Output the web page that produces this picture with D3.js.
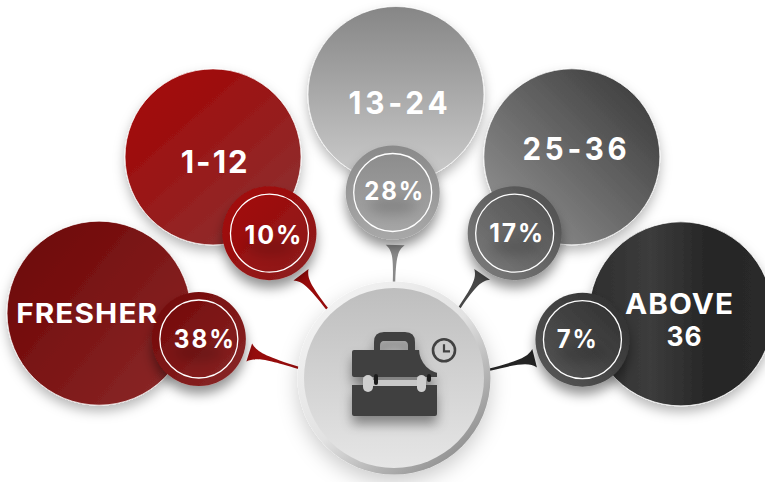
<!DOCTYPE html>
<html>
<head>
<meta charset="utf-8">
<script src="https://cdn.jsdelivr.net/npm/d3@7"></script>
<style>
html, body { margin: 0; padding: 0; background: #fff; }
svg { display: block; }
text { font-family: Inter, sans-serif; font-weight: 700; fill: #fff; text-anchor: middle; }
</style>
</head>
<body>
<script>
const categories = ["FRESHER", "1-12", "13-24", "25-36", "ABOVE 36"];
const shares = [38, 10, 28, 17, 7];

const width = 765, height = 482;
const hub = { x: 394, y: 378, outer: 96.5, inner: 90 };

const svg = d3.select("body").append("svg")
    .attr("width", width)
    .attr("height", height)
    .attr("viewBox", `0 0 ${width} ${height}`);

const ordinal = range => d3.scaleOrdinal().domain(categories).range(range);

// spokes fan out from the hub, each ring has its own angle and distance
const bigAngle = ordinal([-167.6, -129.3, -89.6, -51.2, -12.6]);
const smallAngle = ordinal([-168.7, -130.7, -90.4, -50.2, -11.5]);
const bigDist = ordinal([302, 285.7, 283.5, 283.8, 294]);
const bigRadius = ordinal([92, 88, 88, 88, 92]);
const smallDist = ordinal([199, 191, 185.5, 188.5, 192.3]);
const tipAngle = ordinal([-174, -134, -90, -47, -5]);
const baseAngle = ordinal([-170, -132, -89.5, -49.6, -8]);
const baseDist = ordinal([147, 139, 133, 136, 142]);

const tailColor = ordinal(["#960c0c", "#980a0a", "#8b8b8b", "#484848", "#242424"]);

// share label nudge from the small circle centre
const shareDx = ordinal([5, 3.5, 1, 1.5, -5.8]);
const shareDy = ordinal([9.3, 11, 7, 8.5, 8]);
const shareWidth = ordinal([60, 57, 59, 54, 40]);
const shareSpacing = 2;

const polar = (deg, r) => {
    const a = deg * Math.PI / 180;
    return [hub.x + r * Math.cos(a), hub.y + r * Math.sin(a)];
};

const defs = svg.append("defs");

function gradient(id, stops, x1, y1, x2, y2) {
    const g = defs.append("linearGradient").attr("id", id)
        .attr("x1", x1).attr("y1", y1).attr("x2", x2).attr("y2", y2);
    stops.forEach((c, i) => g.append("stop")
        .attr("offset", i / (stops.length - 1)).attr("stop-color", c));
}

function shadow(id, dy, blur, op) {
    const f = defs.append("filter").attr("id", id)
        .attr("x", "-30%").attr("y", "-30%").attr("width", "160%").attr("height", "170%");
    f.append("feDropShadow").attr("dx", 0).attr("dy", dy)
        .attr("stdDeviation", blur).attr("flood-color", "#000").attr("flood-opacity", op);
}

shadow("big-shadow", 6, 6, 0.28);
shadow("small-shadow", 8, 6, 0.42);
shadow("hub-shadow", 8, 10, 0.2);
shadow("icon-shadow", 8, 6, 0.4);
defs.append("filter").attr("id", "blur")
    .attr("x", "-60%").attr("y", "-120%").attr("width", "220%").attr("height", "340%")
    .append("feGaussianBlur").attr("stdDeviation", 6);

gradient("big-0", ["#6c0303", "#8c2a2a"], 0, 0.1, 1, 0.9);
gradient("big-1", ["#a30303", "#8c3333"], 0.1, 0.05, 0.9, 0.95);
gradient("big-2", ["#868686", "#cdcdcd"], 0.5, 0, 0.5, 1);
gradient("big-3", ["#3e3e3e", "#909090"], 0.9, 0.1, 0.1, 0.9);
gradient("big-4", ["#2e2e2e", "#3c3c3c", "#252525", "#2b2b2b"], 0, 0, 1, 0);
gradient("ring-0", ["#710606", "#8a2828"], 0, 0, 1, 1);
gradient("ring-1", ["#a50505", "#8a2020"], 0, 0, 1, 1);
gradient("ring-2", ["#8a8a8a", "#a8a8a8"], 0.5, 0, 0.5, 1);
gradient("ring-3", ["#4c4c4c", "#7e7e7e"], 1, 0, 0, 1);
gradient("ring-4", ["#2c2c2c", "#5a5a5a"], 1, 0, 0, 1);
gradient("hub-ring", ["#f2f2f2", "#e2e2e2", "#909090"], 0.15, 0.1, 0.85, 0.9);
gradient("hub-face", ["#bebebe", "#e6e6e6"], 0.5, 0, 0.5, 1);

// big category circles go first, everything else overlaps them
svg.append("g").selectAll("circle")
    .data(categories)
    .join("circle")
    .attr("transform", d => `translate(${polar(bigAngle(d), bigDist(d))})`)
    .attr("r", d => bigRadius(d))
    .attr("fill", (d, i) => `url(#big-${i})`)
    .attr("stroke", "#fff")
    .attr("stroke-width", 0.7)
    .attr("filter", "url(#big-shadow)");

// tapered tails running from the small circles into the hub
const tail = d => {
    const tip = polar(tipAngle(d), hub.outer - 0.5);
    const base = polar(baseAngle(d), baseDist(d));
    const dx = tip[0] - base[0], dy = tip[1] - base[1];
    const len = Math.hypot(dx, dy);
    const ux = dx / len, uy = dy / len, nx = -uy, ny = ux;
    const at = (t, s) => [base[0] + ux * len * t + nx * s, base[1] + uy * len * t + ny * s];
    const p = d3.path();
    p.moveTo(...at(0, 9.5));
    p.bezierCurveTo(...at(0.14, 3), ...at(0.3, 1.3), ...at(1, 1.2));
    p.lineTo(...at(1, -1.2));
    p.bezierCurveTo(...at(0.3, -1.3), ...at(0.14, -3), ...at(0, -9.5));
    p.closePath();
    return p.toString();
};

svg.append("g").selectAll("path")
    .data(categories)
    .join("path")
    .attr("d", tail)
    .attr("fill", d => tailColor(d));

// hub
const hubG = svg.append("g");
hubG.append("circle")
    .attr("cx", hub.x).attr("cy", hub.y).attr("r", hub.outer)
    .attr("fill", "url(#hub-ring)")
    .attr("filter", "url(#hub-shadow)");
hubG.append("circle")
    .attr("cx", hub.x).attr("cy", hub.y).attr("r", hub.inner)
    .attr("fill", "url(#hub-face)");

// briefcase icon, the notch for the clock comes from a mask
const mask = defs.append("mask").attr("id", "notch")
    .attr("maskUnits", "userSpaceOnUse")
    .attr("x", 0).attr("y", 0).attr("width", width).attr("height", height);
mask.append("rect").attr("width", width).attr("height", height).attr("fill", "#fff");
mask.append("circle").attr("cx", 444).attr("cy", 349).attr("r", 25).attr("fill", "#000");

const icon = svg.append("g").attr("filter", "url(#icon-shadow)");
const body = icon.append("g").attr("mask", "url(#notch)").attr("fill", "#414141");
body.append("path")
    .attr("d", "M374 351v-9q0-10 10-10h21q10 0 10 10v9h-7v-5q0-5-4-5h-20q-4 0-4 5v5z");
body.append("path").attr("d", "M354 350h83v27h-83q-2 0-2-2v-23q0-2 2-2z");
body.append("path").attr("d", "M352 385h85v29q0 2-2 2h-81q-2 0-2-2z");
icon.append("g").call(g => {
    g.append("rect").attr("x", 373).attr("y", 380).attr("width", 44).attr("height", 6).attr("fill", "#c8c8c8");
    g.append("rect").attr("x", 363).attr("y", 375).attr("width", 10).attr("height", 17).attr("rx", 5).attr("fill", "#cfcfcf");
    g.append("rect").attr("x", 417).attr("y", 375).attr("width", 9).attr("height", 17).attr("rx", 4.5).attr("fill", "#cfcfcf");
});
icon.append("g").attr("fill", "#1d1d1d").call(g => {
    g.append("rect").attr("x", 374).attr("y", 374).attr("width", 4).attr("height", 11).attr("rx", 2);
    g.append("rect").attr("x", 427).attr("y", 374).attr("width", 4).attr("height", 8).attr("rx", 2);
});
const clock = svg.append("g").attr("transform", "translate(444,350.3)").attr("fill", "none").attr("stroke", "#414141");
clock.append("circle").attr("r", 11).attr("stroke-width", 2.6);
clock.append("path").attr("d", "M0 -6V1H6").attr("stroke-width", 2.2);

// small share circles
const smallG = svg.append("g").selectAll("g")
    .data(categories)
    .join("g")
    .attr("transform", d => `translate(${polar(smallAngle(d), smallDist(d))})`);

smallG.append("circle")
    .attr("r", 47)
    .attr("fill", (d, i) => `url(#ring-${i})`)
    .attr("filter", "url(#small-shadow)");
smallG.append("ellipse")
    .attr("cy", 14).attr("rx", 24).attr("ry", 9)
    .attr("fill", "#000").attr("opacity", 0.14)
    .attr("filter", "url(#blur)");
smallG.append("circle")
    .attr("r", 39)
    .attr("fill", "none")
    .attr("stroke", "#fff")
    .attr("stroke-width", 1.3);
// the trailing letter space is counted in, so widen and shift by it
smallG.append("text")
    .attr("x", d => shareDx(d) + shareSpacing / 2)
    .attr("y", d => shareDy(d))
    .attr("font-size", 25)
    .attr("font-weight", 800)
    .attr("letter-spacing", shareSpacing)
    .attr("textLength", d => shareWidth(d) + shareSpacing)
    .attr("lengthAdjust", "spacingAndGlyphs")
    .text((d, i) => shares[i] + "%");

// category labels, ABOVE 36 breaks over two lines
const labelLines = categories.flatMap(c => c.split(" "));
const line = range => d3.scaleOrdinal().domain(labelLines).range(range);
const labelX = line([86.7, 214.2, 398, 574.5, 679, 684]);
const labelY = line([322.7, 173, 114, 160, 314, 346]);
const labelSize = line([26.5, 31, 31.5, 31.5, 28, 27]);
const labelSpacing = line([1, 2, 4, 4, 1, 1]);
const labelWidth = line([141, 67, 99, 104, 108, 35]);

svg.append("g").selectAll("text")
    .data(labelLines)
    .join("text")
    .attr("x", d => labelX(d) + labelSpacing(d) / 2)
    .attr("y", d => labelY(d))
    .attr("font-size", d => labelSize(d))
    .attr("letter-spacing", d => labelSpacing(d))
    .attr("textLength", d => labelWidth(d) + labelSpacing(d))
    .attr("lengthAdjust", "spacingAndGlyphs")
    .text(d => d);
</script>
</body>
</html>
